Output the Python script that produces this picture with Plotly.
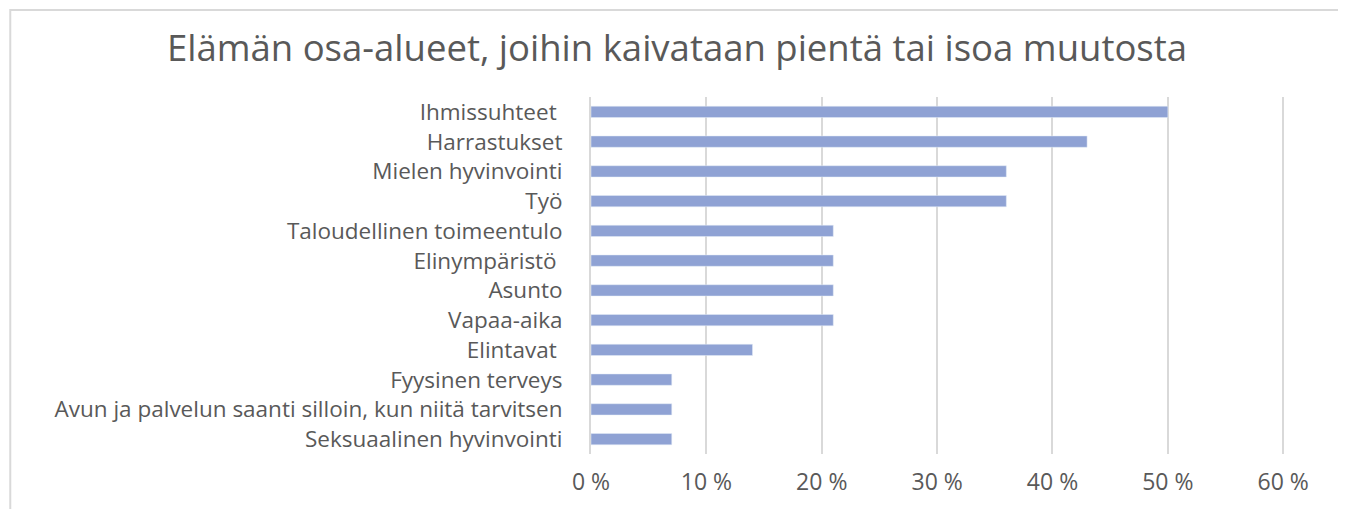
import plotly.graph_objects as go

# categories from top to bottom as shown in the chart
categories = [
    "Ihmissuhteet ",
    "Harrastukset",
    "Mielen hyvinvointi",
    "Työ",
    "Taloudellinen toimeentulo",
    "Elinympäristö ",
    "Asunto",
    "Vapaa-aika",
    "Elintavat ",
    "Fyysinen terveys",
    "Avun ja palvelun saanti silloin, kun niitä tarvitsen",
    "Seksuaalinen hyvinvointi",
]
shares = [50, 43, 36, 36, 21, 21, 21, 21, 14, 7, 7, 7]

tick_vals = [0, 10, 20, 30, 40, 50, 60]
tick_text = ["0 %", "10 %", "20 %", "30 %", "40 %", "50 %", "60 %"]

title = "Elämän osa-alueet, joihin kaivataan pientä tai isoa muutosta"

fig = go.Figure()
fig.add_trace(go.Bar(
    x=shares[::-1],
    y=categories[::-1],
    orientation="h",
    marker=dict(color="#8FA2D4"),
    hoverinfo="x+y",
))

# page has an 8px body margin, so the figure is a bit smaller than the window
fig.update_layout(
    width=1338, height=501,
    margin=dict(l=583, r=57, t=89, b=52),
    paper_bgcolor="white",
    plot_bgcolor="white",
    font=dict(family="Open Sans", color="#595959", size=22.5),
    title=dict(text=title, x=0.5, xanchor="center", y=0.92, yanchor="middle",
               font=dict(size=36.5, color="#595959")),
    bargap=0.62,
    showlegend=False,
)
fig.update_xaxes(
    range=[0, 60.5], tickvals=tick_vals, ticktext=tick_text,
    showgrid=True, gridcolor="#d9d9d9", gridwidth=2,
    zeroline=False, showline=False, ticks="", ticklabelstandoff=12,
    tickfont=dict(size=23),
)
fig.update_yaxes(
    showgrid=False, ticks="", showline=True, linecolor="#d9d9d9", linewidth=2,
    ticklabelstandoff=22,
)

# outer chart border (plot area is 698 x 360 px)
fig.add_shape(type="rect", xref="paper", yref="paper",
              x0=-0.832, x1=1.072, y0=-0.2, y1=1.244,
              line=dict(color="#d9d9d9", width=2), layer="below")

fig.write_html("out.html")
